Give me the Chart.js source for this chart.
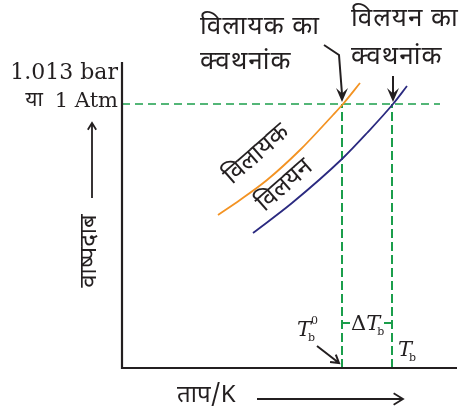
<!DOCTYPE html>
<html>
<head>
<meta charset="utf-8">
<script src="https://cdn.jsdelivr.net/npm/chart.js@4/dist/chart.umd.min.js"></script>
<style>
  html, body { margin: 0; padding: 0; background: #fff; }
  #wrap { width: 462px; height: 410px; position: relative; }
</style>
</head>
<body>
<div id="wrap"><canvas id="bpChart"></canvas></div>
<script>
// Values (arbitrary units: temperature -> x, vapour pressure -> y)
const solventT = [96, 118, 145, 178, 211, 221, 238];
const solventP = [153, 168, 188, 218, 253, 264, 285];
const solutionT = [131, 170, 221, 245, 271, 285];
const solutionP = [135, 165, 210, 235, 264, 282];
const atmPressure = 264;          // 1.013 bar / 1 Atm
const boilPoints = [220, 270];    // Tb0 (solvent), Tb (solution)
const atmLineEnd = 318;
const deltaLevel = 45;            // height of the ΔTb marker

const GREEN = '#1B9E4B';
const ORANGE = '#F39323';
const NAVY = '#2B2A80';
const INK = '#231F20';
const HINDI = "'Noto Sans Devanagari', 'Lohit Devanagari', 'Noto Sans', sans-serif";
const SERIF = "'DejaVu Serif', 'Liberation Serif', serif";

const toPts = (xs, ys) => xs.map((x, i) => ({ x: x, y: ys[i] }));

function arrowOpen(ctx, x1, y1, x2, y2, size) {
    const a = Math.atan2(y2 - y1, x2 - x1);
    ctx.beginPath();
    ctx.moveTo(x1, y1);
    ctx.lineTo(x2, y2);
    ctx.moveTo(x2 - size * Math.cos(a - 0.55), y2 - size * Math.sin(a - 0.55));
    ctx.lineTo(x2, y2);
    ctx.lineTo(x2 - size * Math.cos(a + 0.55), y2 - size * Math.sin(a + 0.55));
    ctx.stroke();
}

function arrowHeadFilled(ctx, x, y, angle, len, half) {
    ctx.beginPath();
    ctx.moveTo(x, y);
    ctx.lineTo(x - len * Math.cos(angle) + half * Math.sin(angle), y - len * Math.sin(angle) - half * Math.cos(angle));
    ctx.lineTo(x - len * 0.6 * Math.cos(angle), y - len * 0.6 * Math.sin(angle));
    ctx.lineTo(x - len * Math.cos(angle) - half * Math.sin(angle), y - len * Math.sin(angle) + half * Math.cos(angle));
    ctx.closePath();
    ctx.fill();
}

function drawT(ctx, x, y, sub, sup) {
    // italic T with subscript (and optional superscript)
    ctx.textAlign = 'left';
    ctx.textBaseline = 'alphabetic';
    ctx.font = 'italic 21px ' + SERIF;
    ctx.fillText('T', x, y);
    const w = ctx.measureText('T').width;
    ctx.font = '11px ' + SERIF;
    ctx.fillText(sub, x + w - 3, y + 5);
    if (sup) ctx.fillText(sup, x + w, y - 12);
}

const annotations = {
    id: 'annotations',
    afterDatasetsDraw(chart) {
        const { ctx, chartArea, scales } = chart;
        const xs = scales.x, ys = scales.y;
        ctx.save();

        // axes
        ctx.strokeStyle = INK;
        ctx.lineWidth = 2.2;
        ctx.beginPath();
        ctx.moveTo(chartArea.left, chartArea.top);
        ctx.lineTo(chartArea.left, chartArea.bottom);
        ctx.lineTo(chartArea.right, chartArea.bottom);
        ctx.stroke();

        ctx.fillStyle = INK;
        // pressure labels
        ctx.font = '22px ' + SERIF;
        ctx.textAlign = 'right';
        ctx.textBaseline = 'middle';
        ctx.fillText('1.013 bar', chartArea.left - 4, 73);
        const yAtm = ys.getPixelForValue(atmPressure);
        ctx.font = '21px ' + SERIF;
        const atmW = ctx.measureText('1 Atm').width;
        ctx.fillText('1 Atm', chartArea.left - 4, yAtm - 2);
        ctx.font = '21px ' + HINDI;
        ctx.fillText('या', chartArea.left - 16 - atmW, yAtm - 2);

        // y-axis title with arrow
        ctx.lineWidth = 1.8;
        arrowOpen(ctx, 92, 198, 92, 123, 8);
        ctx.save();
        ctx.translate(92, 251);
        ctx.rotate(-Math.PI / 2);
        ctx.textAlign = 'center';
        ctx.font = '24px ' + HINDI;
        ctx.fillText('वाष्पदाब', 0, 0);
        ctx.restore();

        // x-axis title with arrow
        ctx.textAlign = 'left';
        ctx.font = '24px ' + HINDI;
        ctx.fillText('ताप/K', 177, 398);
        arrowOpen(ctx, 257, 399, 403, 399, 11);

        // top labels
        ctx.font = '26px ' + HINDI;
        ctx.textAlign = 'left';
        ctx.letterSpacing = '1px';
        ctx.fillText('विलायक का', 200, 29);
        ctx.fillText('क्वथनांक', 200, 64);
        ctx.fillText('विलयन का', 351, 21);
        ctx.fillText('क्वथनांक', 351, 59);
        ctx.letterSpacing = '0px';

        const x0 = xs.getPixelForValue(boilPoints[0]);
        const x1 = xs.getPixelForValue(boilPoints[1]);
        ctx.lineWidth = 2;
        ctx.beginPath();
        ctx.moveTo(324, 45);
        ctx.lineTo(339, 55);
        ctx.lineTo(x0, yAtm - 10);
        ctx.stroke();
        arrowHeadFilled(ctx, x0, yAtm - 2, Math.PI / 2, 14, 6);
        ctx.beginPath();
        ctx.moveTo(x1 + 1, 76);
        ctx.lineTo(x1 + 1, yAtm - 10);
        ctx.stroke();
        arrowHeadFilled(ctx, x1 + 1, yAtm - 2, Math.PI / 2, 14, 6);

        // curve labels
        ctx.font = '25px ' + HINDI;
        ctx.textAlign = 'center';
        ctx.save();
        ctx.translate(258, 156);
        ctx.rotate(-0.72);
        ctx.fillText('विलायक', 0, 0);
        ctx.restore();
        ctx.save();
        ctx.translate(286, 187);
        ctx.rotate(-0.72);
        ctx.fillText('विलयन', 0, 0);
        ctx.restore();

        // ΔTb marker
        const yD = ys.getPixelForValue(deltaLevel);
        ctx.fillStyle = '#fff';
        ctx.fillRect(x0 + 8, yD - 14, x1 - x0 - 16, 26);
        ctx.fillStyle = INK;
        ctx.font = '21px ' + SERIF;
        ctx.textAlign = 'left';
        ctx.textBaseline = 'alphabetic';
        ctx.fillText('Δ', x0 + 9, yD + 7);
        const dw = ctx.measureText('Δ').width;
        drawT(ctx, x0 + 9 + dw, yD + 7, 'b');

        // Tb0 and Tb
        drawT(ctx, 297, 336, 'b', '0');
        ctx.lineWidth = 2;
        arrowOpen(ctx, 317, 346, x0 - 3, chartArea.bottom - 5, 9);
        drawT(ctx, 398, 356, 'b');

        ctx.restore();
    }
};

new Chart(document.getElementById('bpChart'), {
    type: 'scatter',
    data: {
        datasets: [
            {
                data: toPts(solventT, solventP),
                borderColor: ORANGE, borderWidth: 1.8, showLine: true,
                pointRadius: 0, cubicInterpolationMode: 'monotone'
            },
            {
                data: toPts(solutionT, solutionP),
                borderColor: NAVY, borderWidth: 1.8, showLine: true,
                pointRadius: 0, cubicInterpolationMode: 'monotone'
            },
            {
                data: [{ x: 0, y: atmPressure }, { x: atmLineEnd, y: atmPressure }],
                borderColor: GREEN, borderWidth: 1.6, borderDash: [8, 5], showLine: true, pointRadius: 0
            },
            {
                data: [{ x: boilPoints[0], y: 0 }, { x: boilPoints[0], y: atmPressure }],
                borderColor: GREEN, borderWidth: 2, borderDash: [9, 4], showLine: true, pointRadius: 0
            },
            {
                data: [{ x: boilPoints[1], y: 0 }, { x: boilPoints[1], y: atmPressure }],
                borderColor: GREEN, borderWidth: 2, borderDash: [9, 4], showLine: true, pointRadius: 0
            },
            {
                data: [{ x: boilPoints[0], y: deltaLevel }, { x: boilPoints[1], y: deltaLevel }],
                borderColor: GREEN, borderWidth: 2, showLine: true, pointRadius: 0
            }
        ]
    },
    options: {
        responsive: true,
        maintainAspectRatio: false,
        animation: false,
        layout: { padding: { left: 122, top: 62, right: 5, bottom: 42 } },
        plugins: { legend: { display: false }, tooltip: { enabled: false } },
        scales: {
            x: { type: 'linear', display: false, min: 0, max: 335 },
            y: { type: 'linear', display: false, min: 0, max: 306 }
        }
    },
    plugins: [annotations]
});
</script>
</body>
</html>
